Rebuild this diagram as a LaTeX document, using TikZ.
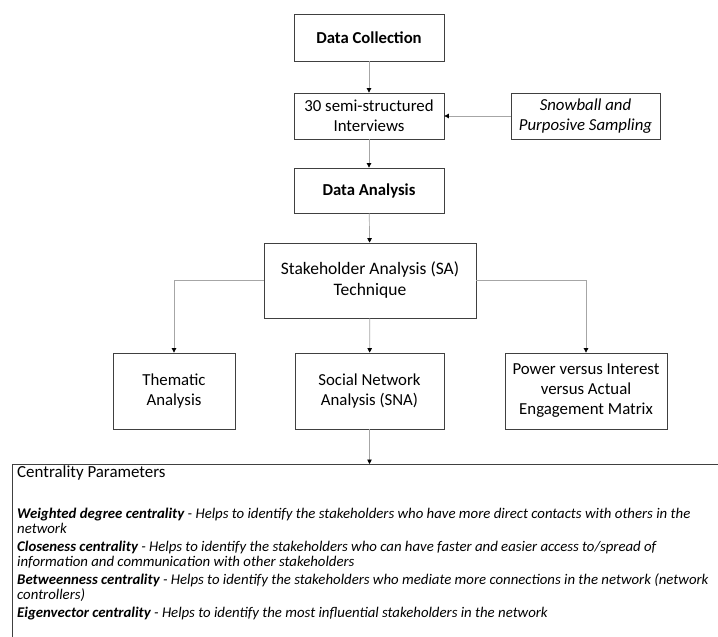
\documentclass[tikz,border=0pt]{standalone}
\usepackage{fontspec}
\setmainfont{Carlito}
\usetikzlibrary{arrows.meta,positioning}
\begin{document}
\begin{tikzpicture}[x=1pt,y=-1pt,
  box/.style={draw=black!75,line width=0.8pt,align=center,inner sep=2pt,
    font=\fontsize{16.8}{20}\selectfont},
  boldbox/.style={box,font=\fontsize{16.7}{20}\selectfont\bfseries},
  conn/.style={draw=black!35,line width=0.7pt,-{Triangle[length=4.5pt,width=4.5pt,color=black]}},
  edge/.style={draw=black!75,line width=0.8pt}]
\useasboundingbox (0,0) rectangle (718,637);
\node[boldbox,minimum width=150,minimum height=47] (dc) at (369,37.5) {Data Collection};
\node[box,minimum width=150,minimum height=46] (iv) at (369,116) {30 semi-structured\\Interviews};
\node[box,minimum width=149,minimum height=46] (sn) at (585.5,116) {\itshape Snowball and\\\itshape Purposive Sampling};
\node[boldbox,minimum width=150,minimum height=45] (da) at (369,190.5) {Data Analysis};
\node[box,minimum width=212,minimum height=75,font=\fontsize{17.5}{21}\selectfont] (sa) at (370,280.5) {Stakeholder Analysis (SA)\\Technique};
\node[box,minimum width=122,minimum height=76] (th) at (174,391) {Thematic\\Analysis};
\node[box,minimum width=149,minimum height=76] (sna) at (369.5,391) {Social Network\\Analysis (SNA)};
\node[box,minimum width=162,minimum height=76] (pw) at (586,391) {Power versus Interest\\versus Actual\\Engagement Matrix};
\coordinate (cptop) at (369.5,464);
\coordinate (cptl) at (12,464);
\coordinate (cptr) at (718,464);
\coordinate (cpbl) at (12,637);
\draw[edge] (cpbl) -- (cptl) -- (cptr);
\node[anchor=base west,inner sep=0pt,font=\fontsize{16.9}{20}\selectfont] (cpt) at (17,477) {Centrality Parameters};
\node[anchor=north west,inner sep=0pt,align=left,font=\fontsize{14.8}{15}\selectfont\itshape] (cp) at (17,508) {%
\textbf{Weighted degree centrality} - Helps to identify the stakeholders who have more direct contacts with others in the\\
network\\[3pt]
\textbf{Closeness centrality} - Helps to identify the stakeholders who can have faster and easier access to/spread of\\
information and communication with other stakeholders\\[3pt]
\textbf{Betweenness centrality} - Helps to identify the stakeholders who mediate more connections in the network (network\\
controllers)\\[3pt]
\textbf{Eigenvector centrality} - Helps to identify the most influential stakeholders in the network};
\draw[conn] (dc) -- (iv);
\draw[conn] (sn) -- (iv);
\draw[conn] (iv) -- (da);
\draw[conn] (da) -- (sa);
\draw[conn] (sa.west) -| (th.north);
\draw[conn] (sa) -- (sna);
\draw[conn] (sa.east) -| (pw.north);
\draw[conn] (sna) -- (cptop);
\end{tikzpicture}
\end{document}
